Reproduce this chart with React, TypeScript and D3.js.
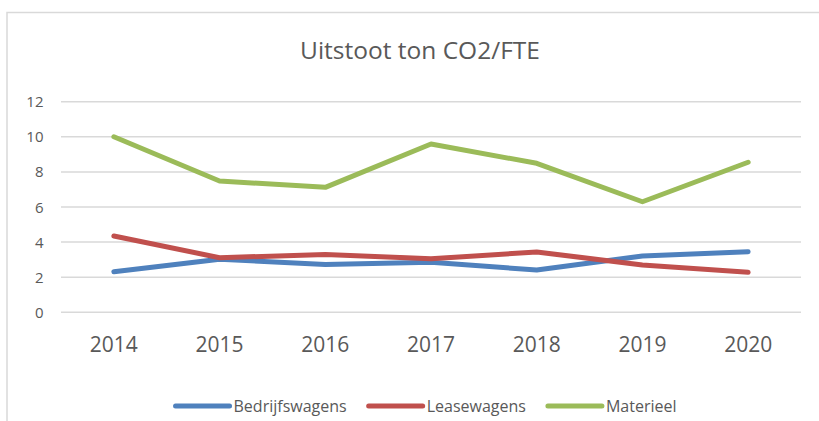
import React, { useEffect, useRef } from "react";
import * as d3 from "d3";

const years = ["2014", "2015", "2016", "2017", "2018", "2019", "2020"];
const bedrijfswagens = [2.31, 3.02, 2.73, 2.85, 2.41, 3.21, 3.45];
const leasewagens = [4.35, 3.11, 3.3, 3.05, 3.44, 2.7, 2.28];
const materieel = [10.0, 7.48, 7.12, 9.59, 8.49, 6.3, 8.55];
const seriesNames = ["Bedrijfswagens", "Leasewagens", "Materieel"];
const yTicks = [0, 2, 4, 6, 8, 10, 12];
const title = "Uitstoot ton CO2/FTE";

const colors = ["#4f81bd", "#c0504d", "#9bbb59"];
const FONT = "'Open Sans', sans-serif";
const TEXT = "#595959";

export default function App() {
  const ref = useRef<SVGSVGElement>(null);
  useEffect(() => {
    const svg = d3.select(ref.current);
    svg.selectAll("*").remove();
    const W = 819, H = 421;
    const left = 61, right = 801, top = 101.7, bottom = 312.3;

    // chart border
    svg.append("rect").attr("x", 7).attr("y", 12.5).attr("width", W + 20).attr("height", H + 20)
      .attr("fill", "#fff").attr("stroke", "#d9d9d9").attr("stroke-width", 1.5);

    svg.append("text").attr("x", 420).attr("y", 59).attr("text-anchor", "middle")
      .attr("font-family", FONT).attr("font-size", 24.5).attr("fill", TEXT).text(title);

    const x = d3.scalePoint<string>().domain(years).range([left, right]).padding(0.5);
    const y = d3.scaleLinear().domain([0, 12]).range([bottom, top]);

    const g = svg.append("g");
    g.selectAll("line.grid").data(yTicks).enter().append("line")
      .attr("x1", left).attr("x2", right)
      .attr("y1", (d) => y(d)).attr("y2", (d) => y(d))
      .attr("stroke", "#d9d9d9").attr("stroke-width", 1.5);

    g.selectAll("text.ytick").data(yTicks).enter().append("text")
      .attr("x", 43.5).attr("y", (d) => y(d) + 5.5).attr("text-anchor", "end")
      .attr("font-family", FONT).attr("font-size", 15).attr("fill", TEXT).text((d) => String(d));

    g.selectAll("text.xtick").data(years).enter().append("text")
      .attr("x", (d) => x(d)!).attr("y", 352).attr("text-anchor", "middle")
      .attr("font-family", FONT).attr("font-size", 21).attr("fill", TEXT).text((d) => d);

    const all = [bedrijfswagens, leasewagens, materieel];
    const line = d3.line<number>().x((_, i) => x(years[i])!).y((d) => y(d));
    all.forEach((s, i) => {
      g.append("path").attr("d", line(s)!).attr("fill", "none")
        .attr("stroke", colors[i]).attr("stroke-width", 5)
        .attr("stroke-linecap", "round").attr("stroke-linejoin", "round");
    });

    // legend
    const lg = svg.append("g");
    const ly = 406;
    const lineLen = 54, gap = 4, itemGap = 22;
    const items = seriesNames.map((name, i) => {
      const gi = lg.append("g");
      gi.append("line").attr("x1", 0).attr("x2", lineLen).attr("y1", ly).attr("y2", ly)
        .attr("stroke", colors[i]).attr("stroke-width", 5).attr("stroke-linecap", "round");
      const t = gi.append("text").attr("x", lineLen + gap).attr("y", ly + 5.8)
        .attr("font-family", FONT).attr("font-size", 16).attr("fill", TEXT).text(name);
      const w = (t.node() as SVGTextElement).getComputedTextLength();
      return { gi, w: lineLen + gap + w };
    });
    const total = d3.sum(items, (d) => d.w) + itemGap * (items.length - 1);
    let cx = 426 - total / 2;
    items.forEach((it) => {
      it.gi.attr("transform", `translate(${cx},0)`);
      cx += it.w + itemGap;
    });
  }, []);
  return (
    <svg ref={ref} width={819} height={421}
      style={{ position: "absolute", left: 0, top: 0, background: "#fff" }} />
  );
}
